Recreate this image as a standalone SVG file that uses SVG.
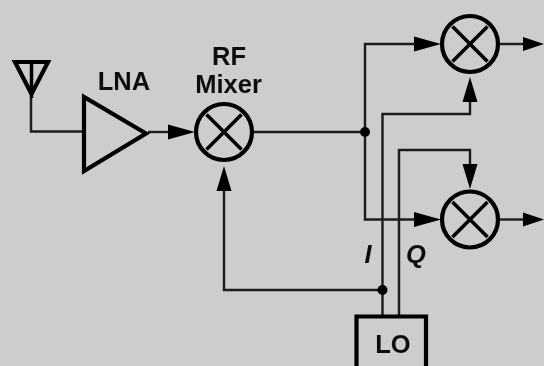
<svg xmlns="http://www.w3.org/2000/svg" width="544" height="366" viewBox="0 0 544 366">
<style>
.w{fill:none;stroke:#1c1c1c;stroke-width:2.4}
.b{fill:none;stroke:#000;stroke-width:4.200}
.h{fill:#000;stroke:none}
.x{fill:none;stroke:#000;stroke-width:3.600}
text{font-family:"Liberation Sans",Arial,sans-serif;font-weight:bold;fill:#111;font-size:25.500px;text-anchor:middle}
</style>
<defs>
<filter id="soft" filterUnits="userSpaceOnUse" x="0" y="0" width="544" height="366"><feGaussianBlur stdDeviation="0.600"/></filter>
<g id="mix"><circle r="28" class="b"/><path class="x" d="M-17.500-17.500L17.500 17.500M-17.500 17.500L17.500-17.500"/></g>
</defs>
<rect width="544" height="366" fill="#cdcdcd"/>
<g filter="url(#soft)">
<g id="connectors">
<path class="w" d="M31 98V131.500H84"/>
<path class="w" d="M148 132H172"/><path class="h" d="M195 132L168 124.500V139.500Z"/>
<path class="w" d="M254 132H365"/>
<path class="w" d="M365 132V44H420"/><path class="h" d="M441 44L414 36.500V51.500Z"/>
<path class="w" d="M365 132V219.500H420"/><path class="h" d="M441 219.500L414 212V227Z"/>
<path class="w" d="M499 44H525"/><path class="h" d="M544 44L523 37V51Z"/>
<path class="w" d="M499 219.500H525"/><path class="h" d="M544 219.500L523 212.500V226.500Z"/>
<path class="w" d="M382.500 316V114H470V100"/><path class="h" d="M470 77L462.500 102H477.500Z"/>
<path class="w" d="M399 316V150H470V168"/><path class="h" d="M470 189L462.500 164H477.500Z"/>
<path class="w" d="M382.500 290H224V188"/><path class="h" d="M224 166L216.500 191H231.500Z"/>
<circle class="h" cx="365" cy="132" r="5"/>
<circle class="h" cx="382.500" cy="290" r="5"/>
</g>
<g id="antenna"><path class="b" d="M15 62H48L31.500 94Z"/><path class="b" d="M31.500 62V98" style="stroke-width:3.500"/></g>
<g id="lna"><path class="b" d="M84 97V171L146 133.500Z"/><text x="124" y="90">LNA</text></g>
<g id="rf-mixer"><use href="#mix" x="224" y="132"/><text x="229" y="64.500">RF</text><text x="228.500" y="92.500">Mixer</text></g>
<g id="mixer-i"><use href="#mix" x="470" y="44"/></g>
<g id="mixer-q"><use href="#mix" x="470" y="219.500"/></g>
<g id="lo"><path class="b" d="M356.500 366V316.500H426V366"/><text x="393" y="353">LO</text></g>
<g id="labels"><text x="368" y="263" style="font-style:italic">I</text><text x="416" y="263" style="font-style:italic">Q</text></g>
</g>
</svg>
